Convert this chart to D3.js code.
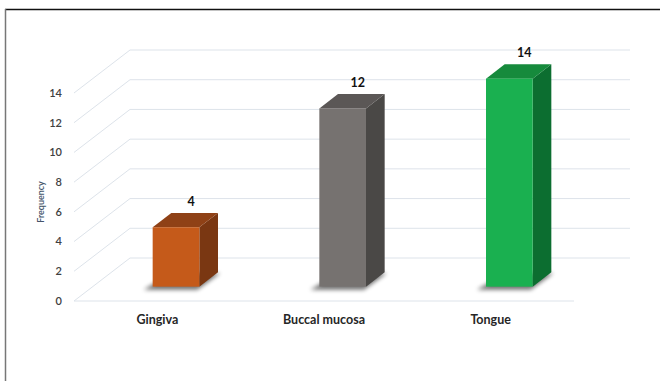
<!DOCTYPE html>
<html>
<head>
<meta charset="utf-8">
<script src="https://cdn.jsdelivr.net/npm/d3@7"></script>
<style>
  body { margin: 0; background: #fff; }
  text { font-family: Lato, "Open Sans", sans-serif; }
</style>
</head>
<body>
<div id="chart"></div>
<script>
const width = 660;
const height = 381;

// data
const categories = ["Gingiva", "Buccal mucosa", "Tongue"];
const frequency = [4, 12, 14];
const yTicks = [0, 2, 4, 6, 8, 10, 12, 14];
const frontColors = ["#c55a1a", "#767270", "#1ab050"];
const topColors = ["#8f4116", "#5b5756", "#168a3c"];
const sideColors = ["#7a3712", "#4a4846", "#0c6e30"];

// plot floor (front edge) and depth of the 3d box
const left = 74, right = 574;
const DX = 56, DY = -43;

const svg = d3.select("#chart").append("svg")
  .attr("width", width).attr("height", height);

// frame
svg.append("line").attr("x1", 5).attr("x2", width).attr("y1", 9.5).attr("y2", 9.5)
  .attr("stroke", "#111").attr("stroke-width", 1.5);
svg.append("line").attr("x1", 5.5).attr("x2", 5.5).attr("y1", 9).attr("y2", height)
  .attr("stroke", "#777").attr("stroke-width", 1.5);

const x = d3.scaleBand().domain(categories).range([left, right]);
const y = d3.scaleLinear().domain([0, 14]).range([301, 93]);

const defs = svg.append("defs");
defs.append("filter").attr("id", "blur")
  .attr("x", "-50%").attr("y", "-50%").attr("width", "200%").attr("height", "200%")
  .append("feGaussianBlur").attr("stdDeviation", 2.2);

// gridlines: left wall diagonals + back wall lines
const grid = svg.append("g").attr("stroke", "#dde3ea").attr("stroke-width", 1).attr("fill", "none");
yTicks.forEach(v => {
  grid.append("path").attr("d", d3.line()([
    [left, y(v)], [left + DX, y(v) + DY], [right + DX, y(v) + DY]
  ]));
});
// front floor line
grid.append("line").attr("x1", left).attr("x2", right).attr("y1", y(0)).attr("y2", y(0));

// y tick labels
svg.append("g").selectAll("text").data(yTicks).join("text")
  .attr("x", 62).attr("y", d => y(d)).attr("dy", "0.35em")
  .attr("text-anchor", "end").attr("font-size", 11).attr("font-weight", 600)
  .attr("fill", "#404040").text(d => d);

// y axis title
svg.append("text")
  .attr("transform", "translate(44,202) rotate(-90)")
  .attr("text-anchor", "middle").attr("font-size", 9).attr("font-weight", 600)
  .attr("fill", "#44546a").text("Frequency");

// bars (front face sits at 1/3 depth, back face at 2/3)
const dx = DX / 3, dy = DY / 3;
const w = x.step() * 0.28;

const bars = svg.append("g").selectAll("g").data(categories).join("g");

bars.each(function(c, i) {
  const g = d3.select(this);
  const cx = x(c) + x.bandwidth() / 2 + dx;
  const x0 = cx - w / 2, x1 = cx + w / 2;
  const yTop = y(frequency[i]) + dy, yBot = y(0) + dy;

  // soft floor shadow
  g.append("path")
    .attr("d", d3.line()([[x0 - 9, yBot + 3], [x1 - 2, yBot + 3], [x1 + dx + 2, yBot + dy + 1], [x0 + dx, yBot + dy + 1]]) + "Z")
    .attr("fill", "#000").attr("opacity", 0.55).attr("filter", "url(#blur)");

  g.append("path")
    .attr("d", d3.line()([[x1, yTop], [x1 + dx, yTop + dy], [x1 + dx, yBot + dy], [x1, yBot]]) + "Z")
    .attr("fill", sideColors[i]);
  g.append("path")
    .attr("d", d3.line()([[x0, yTop], [x1, yTop], [x1 + dx, yTop + dy], [x0 + dx, yTop + dy]]) + "Z")
    .attr("fill", topColors[i]);
  g.append("rect")
    .attr("x", x0).attr("y", yTop).attr("width", w).attr("height", yBot - yTop)
    .attr("fill", frontColors[i]);

  g.append("text")
    .attr("x", cx + 15).attr("y", yTop + dy - 7)
    .attr("text-anchor", "middle").attr("font-size", 12.5).attr("font-weight", 700)
    .attr("fill", "#111").text(frequency[i]);
});

// category labels
svg.append("g").selectAll("text").data(categories).join("text")
  .attr("x", d => x(d) + x.bandwidth() / 2).attr("y", 324)
  .attr("text-anchor", "middle").attr("font-size", 12.5).attr("font-weight", 700)
  .attr("fill", "#262626").text(d => d);
</script>
</body>
</html>
